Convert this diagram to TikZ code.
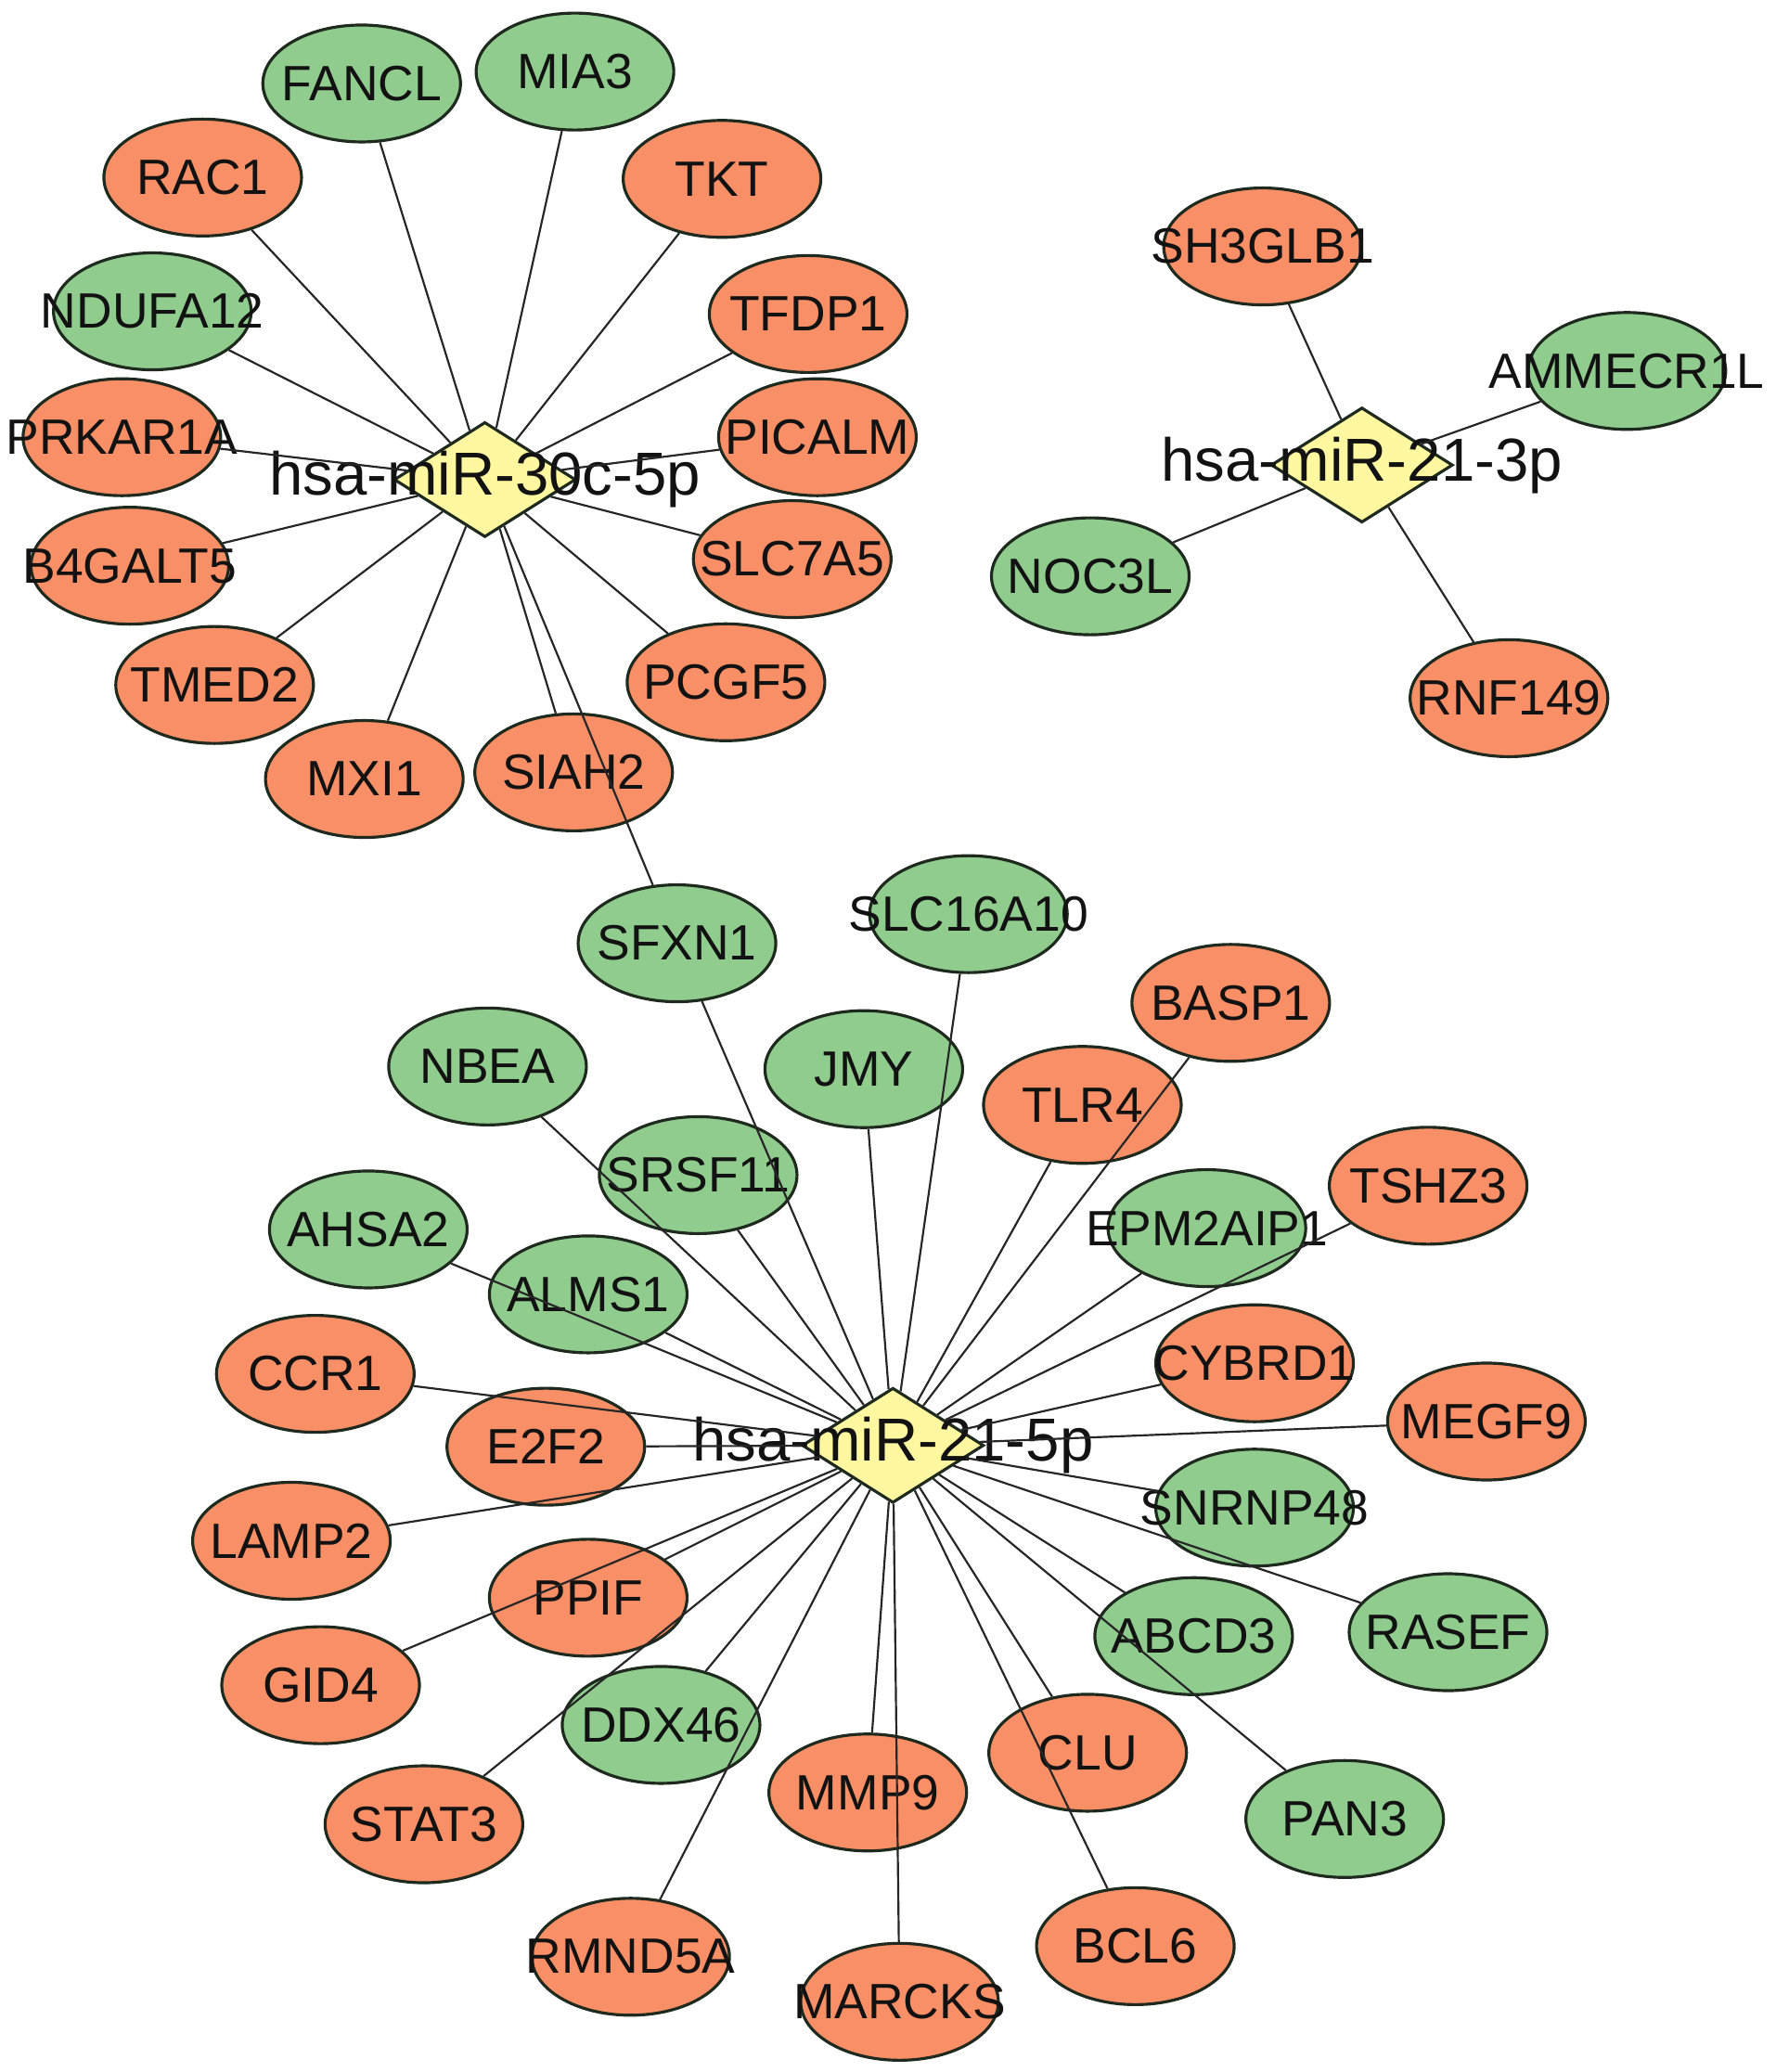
\documentclass[tikz,border=0pt]{standalone}
\usepackage{fontspec}
\setmainfont{Liberation Sans}
\usetikzlibrary{shapes.geometric}
\definecolor{upc}{HTML}{F98F66}
\definecolor{downc}{HTML}{90CC8E}
\definecolor{mirc}{HTML}{FFF8A0}
\definecolor{rim}{HTML}{1E2A1E}

\begin{document}
\begin{tikzpicture}[x=0.14276mm,y=-0.14276mm,
	gene/.style={shape=ellipse,draw=rim,line width=0.9pt,minimum width=21.3mm,minimum height=12.6mm,inner sep=0pt,
		label={[font=\fontsize{15.2}{18}\selectfont,text=black!93]center:#1}},
	up/.style={gene=#1,fill=upc},
	down/.style={gene=#1,fill=downc},
	mirna/.style={shape=diamond,draw=rim,fill=mirc,line width=0.9pt,minimum width=19.6mm,minimum height=12.4mm,inner sep=0pt,
		label={[font=\fontsize{18.6}{22}\selectfont,text=black!93]center:#1}},
	every edge/.style={draw=black!85,line width=0.62pt}]
	    \useasboundingbox (0,0) rectangle (1340,1564);

	    % hsa-miR-30c-5p
	    \node[mirna=hsa-miR-30c-5p] (m30c5p) at (366,362) {};
	    \node[down=FANCL] (FANCL) at (273,63) {};
	    \node[down=MIA3] (MIA3) at (434,54) {};
	    \node[up=RAC1] (RAC1) at (153,134) {};
	    \node[up=TKT] (TKT) at (545,135) {};
	    \node[down=NDUFA12] (NDUFA12) at (115,235) {};
	    \node[up=TFDP1] (TFDP1) at (610,237) {};
	    \node[up=PRKAR1A] (PRKAR1A) at (92,330) {};
	    \node[up=PICALM] (PICALM) at (617,330) {};
	    \node[up=B4GALT5] (B4GALT5) at (98,427) {};
	    \node[up=SLC7A5] (SLC7A5) at (598,422) {};
	    \node[up=TMED2] (TMED2) at (162,517) {};
	    \node[up=PCGF5] (PCGF5) at (548,515) {};
	    \node[up=MXI1] (MXI1) at (275,588) {};
	    \node[up=SIAH2] (SIAH2) at (433,583) {};

	    % hsa-miR-21-3p
	    \node[mirna=hsa-miR-21-3p] (m213p) at (1028,351) {};
	    \node[up=SH3GLB1] (SH3GLB1) at (953,186) {};
	    \node[down=AMMECR1L] (AMMECR1L) at (1228,280) {};
	    \node[down=NOC3L] (NOC3L) at (823,435) {};
	    \node[up=RNF149] (RNF149) at (1139,527) {};

	    % hsa-miR-21-5p
	    \node[mirna=hsa-miR-21-5p] (m215p) at (674,1091) {};
	    \node[down=SFXN1] (SFXN1) at (511,712) {};
	    \node[down=SLC16A10] (SLC16A10) at (731,690) {};
	    \node[up=BASP1] (BASP1) at (929,757) {};
	    \node[down=NBEA] (NBEA) at (368,805) {};
	    \node[down=JMY] (JMY) at (652,807) {};
	    \node[up=TLR4] (TLR4) at (817,834) {};
	    \node[down=SRSF11] (SRSF11) at (527,887) {};
	    \node[up=TSHZ3] (TSHZ3) at (1078,895) {};
	    \node[down=AHSA2] (AHSA2) at (278,928) {};
	    \node[down=EPM2AIP1] (EPM2AIP1) at (911,927) {};
	    \node[down=ALMS1] (ALMS1) at (444,977) {};
	    \node[up=CYBRD1] (CYBRD1) at (947,1029) {};
	    \node[up=CCR1] (CCR1) at (238,1037) {};
	    \node[up=MEGF9] (MEGF9) at (1122,1073) {};
	    \node[up=E2F2] (E2F2) at (412,1092) {};
	    \node[down=SNRNP48] (SNRNP48) at (947,1138) {};
	    \node[up=LAMP2] (LAMP2) at (220,1163) {};
	    \node[down=RASEF] (RASEF) at (1093,1232) {};
	    \node[up=PPIF] (PPIF) at (444,1206) {};
	    \node[down=ABCD3] (ABCD3) at (901,1235) {};
	    \node[up=GID4] (GID4) at (242,1272) {};
	    \node[down=DDX46] (DDX46) at (499,1302) {};
	    \node[up=CLU] (CLU) at (821,1323) {};
	    \node[up=MMP9] (MMP9) at (655,1353) {};
	    \node[down=PAN3] (PAN3) at (1015,1373) {};
	    \node[up=STAT3] (STAT3) at (320,1377) {};
	    \node[up=BCL6] (BCL6) at (857,1469) {};
	    \node[up=RMND5A] (RMND5A) at (476,1477) {};
	    \node[up=MARCKS] (MARCKS) at (679,1511) {};

	    \path (m30c5p) edge (FANCL);
	    \path (m30c5p) edge (MIA3);
	    \path (m30c5p) edge (RAC1);
	    \path (m30c5p) edge (TKT);
	    \path (m30c5p) edge (NDUFA12);
	    \path (m30c5p) edge (TFDP1);
	    \path (m30c5p) edge (PRKAR1A);
	    \path (m30c5p) edge (PICALM);
	    \path (m30c5p) edge (B4GALT5);
	    \path (m30c5p) edge (SLC7A5);
	    \path (m30c5p) edge (TMED2);
	    \path (m30c5p) edge (PCGF5);
	    \path (m30c5p) edge (MXI1);
	    \path (m30c5p) edge (SIAH2);
	    \path (m30c5p) edge (SFXN1);

	    \path (m213p) edge (SH3GLB1);
	    \path (m213p) edge (AMMECR1L);
	    \path (m213p) edge (NOC3L);
	    \path (m213p) edge (RNF149);

	    \path (m215p) edge (SFXN1);
	    \path (m215p) edge (SLC16A10);
	    \path (m215p) edge (BASP1);
	    \path (m215p) edge (NBEA);
	    \path (m215p) edge (JMY);
	    \path (m215p) edge (TLR4);
	    \path (m215p) edge (SRSF11);
	    \path (m215p) edge (TSHZ3);
	    \path (m215p) edge (AHSA2);
	    \path (m215p) edge (EPM2AIP1);
	    \path (m215p) edge (ALMS1);
	    \path (m215p) edge (CYBRD1);
	    \path (m215p) edge (CCR1);
	    \path (m215p) edge (MEGF9);
	    \path (m215p) edge (E2F2);
	    \path (m215p) edge (SNRNP48);
	    \path (m215p) edge (LAMP2);
	    \path (m215p) edge (RASEF);
	    \path (m215p) edge (PPIF);
	    \path (m215p) edge (ABCD3);
	    \path (m215p) edge (GID4);
	    \path (m215p) edge (DDX46);
	    \path (m215p) edge (CLU);
	    \path (m215p) edge (MMP9);
	    \path (m215p) edge (PAN3);
	    \path (m215p) edge (STAT3);
	    \path (m215p) edge (BCL6);
	    \path (m215p) edge (RMND5A);
	    \path (m215p) edge (MARCKS);
	\end{tikzpicture}
\end{document}
